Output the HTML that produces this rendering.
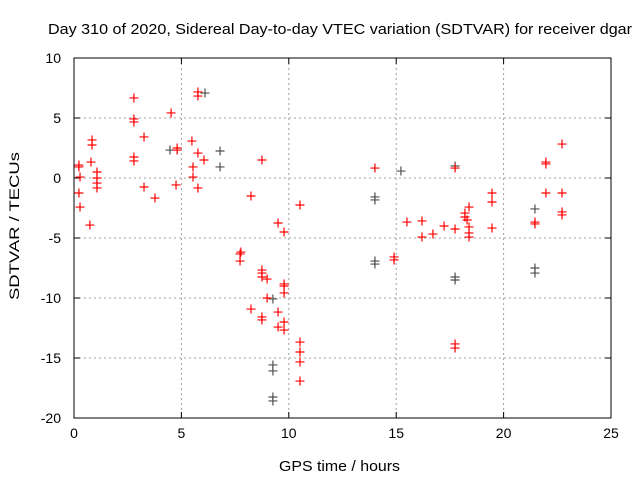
<!DOCTYPE html>
<html><head><meta charset="utf-8"><style>
body{margin:0;background:#fff}
svg{display:block;font-family:"Liberation Sans",sans-serif}
</style></head><body>
<svg id="chart" width="640" height="480" viewBox="0 0 640 480" xmlns="http://www.w3.org/2000/svg">
<rect width="640" height="480" fill="#fff"/>
<text x="48" y="34" font-size="15" textLength="584" lengthAdjust="spacingAndGlyphs">Day 310 of 2020, Sidereal Day-to-day VTEC variation (SDTVAR) for receiver dgar</text>
<text x="279" y="471" font-size="15" textLength="121" lengthAdjust="spacingAndGlyphs">GPS time / hours</text>
<text transform="translate(19,300) rotate(-90)" font-size="14" textLength="148" lengthAdjust="spacingAndGlyphs">SDTVAR / TECUs</text>
<g id="grid"></g><g id="axes"></g><g id="marks"></g>
</svg>
<script>
const xTicks=[0,5,10,15,20,25];
const yTicks=[10,5,0,-5,-10,-15,-20];
const redX=[0.23,0.23,0.28,0.23,0.28,0.84,0.84,0.79,0.74,1.07,1.07,1.07,1.07,2.79,2.79,2.79,2.79,2.79,3.26,3.26,3.77,4.52,4.8,4.8,4.75,5.54,5.54,5.49,5.77,5.77,5.77,5.77,6.05,8.24,10.52,9.5,9.78,7.77,7.73,7.73,8.75,8.75,8.75,8.99,9.78,9.78,9.78,8.99,8.24,8.75,8.75,9.5,9.78,9.5,9.78,10.52,10.52,10.52,10.52,8.75,14.01,17.74,22.72,21.97,21.97,15.5,16.2,16.2,16.71,17.23,17.74,18.2,18.2,18.3,18.39,18.39,18.39,18.39,19.46,19.46,19.46,21.46,21.46,21.97,22.72,22.72,22.72,14.9,14.9,17.74,17.74];
const redY=[1.08,0.92,0.08,-1.25,-2.42,3.17,2.75,1.33,-3.92,0.5,0,-0.42,-0.83,6.67,4.92,4.67,1.75,1.42,3.42,-0.75,-1.67,5.42,2.5,2.33,-0.58,0.92,0.08,3.08,7.17,6.83,-0.83,2.08,1.5,-1.5,-2.25,-3.75,-4.5,-6.17,-6.33,-6.92,-7.67,-7.92,-8.25,-8.42,-8.83,-9,-9.58,-10,-10.92,-11.58,-11.83,-11.17,-12,-12.42,-12.67,-13.67,-14.5,-15.33,-16.92,1.5,0.83,0.83,2.83,1.33,1.17,-3.67,-3.58,-4.92,-4.67,-4,-4.25,-2.92,-3.25,-3.5,-2.42,-4.08,-4.58,-4.92,-1.25,-2,-4.17,-3.67,-3.83,-1.25,-1.25,-2.83,-3.08,-6.58,-6.83,-13.83,-14.17];
const grayX=[6.1,6.8,6.8,4.47,9.26,9.26,9.26,9.26,9.26,15.22,17.74,17.74,17.74,21.46,21.46,21.46,14.01,14.01,14.01,14.01];
const grayY=[7.08,2.25,0.92,2.33,-15.58,-16.08,-18.25,-18.58,-10.08,0.58,1,-8.25,-8.5,-7.5,-7.92,-2.58,-1.58,-1.83,-6.92,-7.17];
const L=74,R=611,T=58,B=418;
const sx=v=>L+(v-0)/25*(R-L);
const sy=v=>T+(10-v)/30*(B-T);
const NS="http://www.w3.org/2000/svg";
function mk(tag,attrs,parent){const e=document.createElementNS(NS,tag);for(const k in attrs)e.setAttribute(k,attrs[k]);parent.appendChild(e);return e;}
const grid=document.getElementById('grid'),axes=document.getElementById('axes'),marks=document.getElementById('marks');
xTicks.forEach(t=>{
  const x=sx(t);
  if(t>0&&t<25){const g=mk('line',{x1:x,x2:x,y1:T,y2:B,stroke:'#a0a0a0','stroke-dasharray':'2,3'},grid);
  
  }
  mk('line',{x1:x,x2:x,y1:B,y2:B-6,stroke:'#000'},axes);
  mk('line',{x1:x,x2:x,y1:T,y2:T+6,stroke:'#000'},axes);
  const tx=mk('text',{x:x,y:B+20,'font-size':14,'text-anchor':'middle'},axes);
  tx.textContent=t;
  
  
});
yTicks.forEach(t=>{
  const y=sy(t);
  if(t<10&&t>-20){const g=mk('line',{x1:L,x2:R,y1:y,y2:y,stroke:'#a0a0a0','stroke-dasharray':'2,3'},grid);
  
  }
  mk('line',{x1:L,x2:L+6,y1:y,y2:y,stroke:'#000'},axes);
  mk('line',{x1:R,x2:R-6,y1:y,y2:y,stroke:'#000'},axes);
  const tx=mk('text',{x:L-13,y:y+5,'font-size':14,'text-anchor':'end'},axes);
  tx.textContent=t;
  
  
});
const fr=mk('rect',{x:L,y:T,width:R-L,height:B-T,fill:'none',stroke:'#000'},axes);


function cross(x,y,col,name){
  const X=sx(x),Y=sy(y);
  const p=mk('path',{d:`M${X-4.5},${Y}H${X+4.5}M${X},${Y-4.5}V${Y+4.5}`,stroke:col,'stroke-width':1.2,fill:'none'},marks);
  
  
}
grayX.forEach((x,i)=>cross(x,grayY[i],'#505050','gray-point'));
redX.forEach((x,i)=>cross(x,redY[i],'#ff0000','red-point'));
</script>
</body></html>
